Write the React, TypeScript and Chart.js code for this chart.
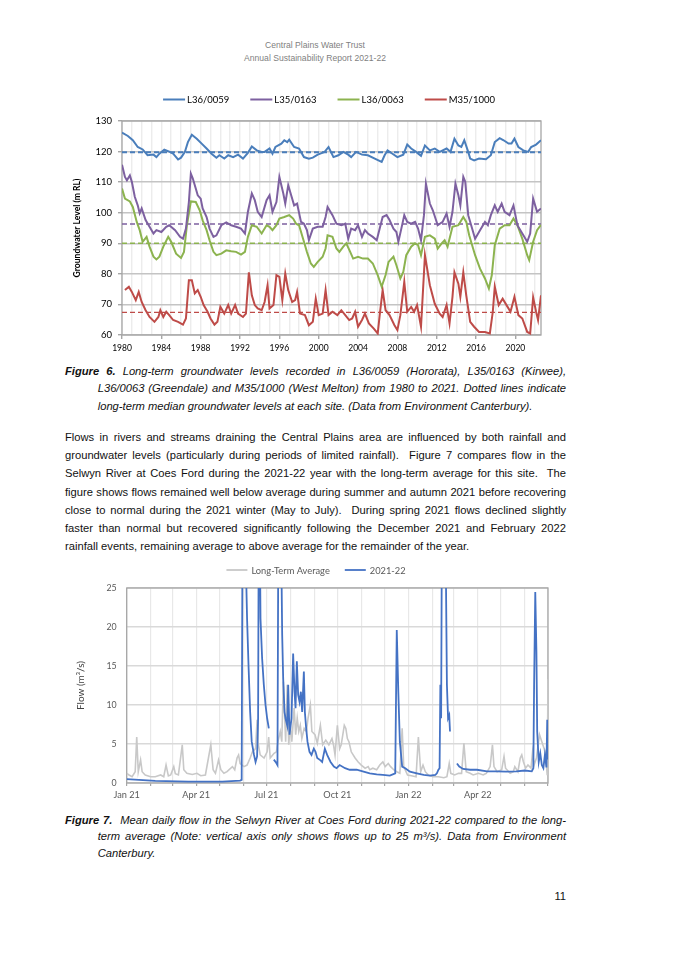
import React, { useEffect, useRef } from "react";
import { Chart, registerables } from "chart.js";

Chart.register(...registerables);

// ================= Figure 6: groundwater levels =================
const gwYearTicks = [
  1980, 1981, 1982, 1983, 1984, 1985, 1986, 1987, 1988, 1989, 1990, 1991, 1992, 1993, 1994,
  1995, 1996, 1997, 1998, 1999, 2000, 2001, 2002, 2003, 2004, 2005, 2006, 2007, 2008, 2009,
  2010, 2011, 2012, 2013, 2014, 2015, 2016, 2017, 2018, 2019, 2020, 2021, 2022,
];
const gwLabelYears = [1980, 1984, 1988, 1992, 1996, 2000, 2004, 2008, 2012, 2016, 2020];
const gwSeriesNames = ["L36/0059", "L35/0163", "L36/0063", "M35/1000"];
const gwColors = ["#4a7ebb", "#7d60a0", "#8cb34f", "#be4b48"];
const gwMedians = [119.8, 96.3, 90.0, 67.4];

const l36_0059_years = [
  1980.0, 1980.6, 1981.1, 1981.6, 1982.1, 1982.6, 1983.2, 1983.5, 1983.8, 1984.3, 1984.8, 1985.2,
  1985.7, 1986.0, 1986.4, 1986.5, 1986.7, 1987.1, 1987.6, 1988.1, 1988.6, 1989.1, 1989.6, 1989.9,
  1990.4, 1990.8, 1991.3, 1991.8, 1992.3, 1992.8, 1993.2, 1993.7, 1994.2, 1994.5, 1995.0, 1995.3,
  1995.6, 1996.2, 1996.5, 1996.8, 1997.0, 1997.5, 1998.0, 1998.5, 1999.0, 1999.4, 1999.9, 2000.6,
  2001.0, 2001.5, 2002.0, 2002.5, 2003.0, 2003.3, 2003.8, 2004.4, 2005.0, 2005.7, 2006.4, 2006.7,
  2007.0, 2007.5, 2008.0, 2008.6, 2009.0, 2009.4, 2009.9, 2010.4, 2010.8, 2011.3, 2011.8, 2012.3,
  2013.0, 2013.4, 2013.8, 2014.2, 2014.5, 2014.8, 2015.2, 2015.4, 2015.8, 2016.3, 2017.0, 2017.5,
  2017.9, 2018.4, 2018.8, 2019.3, 2019.6, 2019.9, 2020.3, 2020.8, 2021.3, 2021.6, 2022.1, 2022.6,
];
const l36_0059_levels = [
  126.2, 125.1, 123.7, 121.5, 120.7, 118.8, 119.0, 118.2, 119.3, 120.6, 120.0, 119.3,
  117.4, 118.0, 119.9, 121.0, 123.1, 125.5, 124.2, 122.6, 121.0, 119.3, 118.0, 118.8,
  117.7, 118.8, 118.2, 119.0, 117.7, 119.6, 121.7, 120.4, 119.9, 119.9, 121.0, 119.3,
  121.5, 122.6, 123.7, 123.1, 123.9, 121.5, 121.0, 118.2, 117.7, 118.0, 119.0, 119.9,
  121.5, 118.2, 118.8, 119.9, 119.0, 118.2, 119.9, 119.0, 118.8, 117.7, 116.6, 118.8,
  120.4, 119.3, 118.2, 119.0, 122.3, 121.0, 119.9, 118.6, 122.0, 120.4, 121.0, 119.9,
  121.0, 119.9, 124.2, 122.0, 121.5, 123.7, 119.9, 117.7, 117.1, 117.7, 117.5, 118.8,
  123.1, 124.4, 123.7, 122.6, 122.6, 124.2, 121.5, 120.4, 119.9, 121.5, 122.3, 123.7,
];

const l35_0163_years = [
  1980.0, 1980.3, 1980.5, 1980.8, 1981.0, 1981.3, 1981.6, 1981.8, 1982.0, 1982.4, 1982.8, 1983.2,
  1983.5, 1984.0, 1984.5, 1984.8, 1985.4, 1985.9, 1986.2, 1986.5, 1986.8, 1987.0, 1987.2, 1987.5,
  1987.7, 1988.0, 1988.2, 1988.6, 1988.9, 1989.3, 1989.6, 1990.1, 1990.6, 1991.1, 1991.6, 1992.1,
  1992.5, 1992.8, 1993.2, 1993.5, 1993.8, 1994.2, 1994.7, 1995.0, 1995.3, 1995.7, 1996.0, 1996.4,
  1996.6, 1996.9, 1997.2, 1997.5, 1997.8, 1998.2, 1998.5, 1998.8, 1999.0, 1999.4, 1999.9, 2000.4,
  2000.7, 2000.9, 2001.4, 2001.8, 2002.3, 2002.7, 2003.0, 2003.3, 2003.7, 2004.0, 2004.4, 2004.7,
  2005.0, 2005.5, 2005.9, 2006.2, 2006.5, 2006.9, 2007.2, 2007.6, 2007.9, 2008.1, 2008.4, 2008.7,
  2009.0, 2009.4, 2009.8, 2010.1, 2010.4, 2010.7, 2010.9, 2011.3, 2011.6, 2012.1, 2012.6, 2013.0,
  2013.3, 2013.6, 2013.9, 2014.2, 2014.4, 2014.7, 2014.9, 2015.2, 2015.5, 2015.9, 2016.4, 2016.9,
  2017.2, 2017.5, 2017.9, 2018.2, 2018.6, 2018.9, 2019.4, 2019.8, 2020.2, 2020.7, 2021.2, 2021.5,
  2021.8, 2022.2, 2022.6,
];
const l35_0163_levels = [
  115.7, 111.7, 110.6, 112.2, 110.1, 105.2, 102.4, 99.8, 101.4, 97.6, 95.4, 93.2,
  94.3, 93.7, 95.4, 95.9, 94.3, 92.1, 91.5, 94.8, 103.5, 112.8, 111.2, 107.9,
  105.7, 104.6, 101.4, 98.6, 94.8, 92.1, 92.6, 95.9, 96.8, 95.9, 95.4, 94.8,
  93.2, 100.3, 106.3, 104.1, 100.3, 98.6, 104.1, 105.7, 100.3, 103.5, 111.7, 106.3,
  103.0, 109.0, 105.7, 102.4, 103.0, 97.0, 96.4, 94.3, 91.0, 94.8, 95.4, 95.4,
  98.6, 101.9, 99.2, 96.4, 95.9, 96.4, 91.5, 94.8, 94.3, 95.9, 92.1, 94.3,
  93.2, 92.1, 91.0, 94.8, 98.6, 99.2, 97.6, 94.8, 93.7, 90.5, 94.8, 99.2,
  97.0, 96.4, 97.0, 94.8, 91.0, 99.2, 109.5, 103.0, 100.8, 95.9, 97.0, 99.7,
  95.4, 100.3, 109.5, 105.7, 102.4, 111.7, 110.1, 99.2, 95.9, 91.5, 94.3, 97.0,
  95.9, 99.2, 102.4, 100.3, 103.0, 100.3, 99.2, 102.4, 95.9, 93.2, 90.5, 93.2,
  104.6, 100.3, 101.4,
];

const l36_0063_years = [
  1980.0, 1980.3, 1980.8, 1981.1, 1981.5, 1981.8, 1982.1, 1982.5, 1982.8, 1983.2, 1983.5, 1983.8,
  1984.2, 1984.7, 1985.0, 1985.5, 1986.0, 1986.3, 1986.6, 1987.0, 1987.5, 1987.9, 1988.2, 1988.6,
  1988.9, 1989.3, 1989.6, 1990.1, 1990.6, 1991.1, 1991.6, 1992.1, 1992.5, 1992.8, 1993.2, 1993.7,
  1994.2, 1994.7, 1995.0, 1995.3, 1995.7, 1996.0, 1996.5, 1997.0, 1997.4, 1997.7, 1998.0, 1998.5,
  1998.8, 1999.2, 1999.5, 1999.9, 2000.4, 2000.7, 2000.9, 2001.4, 2001.8, 2002.1, 2002.5, 2002.8,
  2003.2, 2003.5, 2004.0, 2004.5, 2005.0, 2005.5, 2006.0, 2006.4, 2006.8, 2007.1, 2007.6, 2007.9,
  2008.3, 2008.6, 2008.9, 2009.4, 2009.8, 2010.1, 2010.4, 2010.8, 2011.3, 2011.8, 2012.1, 2012.5,
  2012.8, 2013.1, 2013.6, 2014.2, 2014.7, 2015.0, 2015.3, 2015.9, 2016.4, 2016.9, 2017.3, 2017.6,
  2017.9, 2018.4, 2018.9, 2019.4, 2019.8, 2020.2, 2020.7, 2021.2, 2021.4, 2021.8, 2022.2, 2022.6,
];
const l36_0063_levels = [
  107.9, 104.6, 103.7, 101.9, 97.0, 94.3, 90.5, 92.1, 88.9, 85.6, 84.7, 85.6,
  88.9, 92.1, 90.5, 86.6, 85.2, 87.2, 95.9, 103.7, 103.5, 100.8, 97.5, 94.3,
  91.0, 87.2, 86.1, 86.6, 87.7, 87.4, 87.2, 86.3, 87.2, 92.1, 95.9, 95.4,
  93.2, 95.9, 95.4, 94.3, 95.9, 98.1, 98.6, 99.2, 98.1, 96.4, 95.9, 90.5,
  87.2, 83.4, 82.3, 83.9, 85.6, 88.3, 92.6, 92.1, 88.3, 87.2, 88.9, 90.0,
  87.2, 85.0, 85.6, 85.0, 85.0, 83.4, 79.6, 75.8, 79.6, 83.9, 85.6, 82.8,
  78.5, 80.6, 86.1, 88.9, 90.0, 89.4, 86.1, 92.1, 92.6, 91.5, 88.3, 90.0,
  91.0, 88.9, 95.4, 95.9, 98.6, 97.0, 92.6, 86.1, 81.7, 78.5, 75.2, 79.6,
  89.4, 94.8, 95.9, 95.9, 98.1, 95.9, 91.5, 86.1, 84.5, 90.5, 94.3, 96.0,
];

const m35_1000_years = [
  1980.3, 1980.7, 1981.0, 1981.4, 1981.7, 1982.0, 1982.4, 1982.8, 1983.3, 1983.7, 1983.9, 1984.2,
  1984.5, 1984.8, 1985.2, 1985.7, 1986.2, 1986.5, 1986.8, 1987.1, 1987.4, 1987.7, 1988.0, 1988.3,
  1988.7, 1989.0, 1989.4, 1989.7, 1990.0, 1990.4, 1990.8, 1991.1, 1991.5, 1991.8, 1992.3, 1992.6,
  1992.9, 1993.2, 1993.5, 1993.8, 1994.2, 1994.5, 1994.8, 1995.0, 1995.4, 1995.7, 1996.0, 1996.3,
  1996.6, 1996.9, 1997.3, 1997.6, 1997.8, 1998.1, 1998.6, 1999.0, 1999.4, 1999.7, 2000.0, 2000.4,
  2000.7, 2001.0, 2001.4, 2001.9, 2002.3, 2002.7, 2003.1, 2003.4, 2003.7, 2004.0, 2004.4, 2004.7,
  2005.1, 2005.6, 2006.0, 2006.2, 2006.5, 2006.8, 2007.2, 2007.7, 2008.0, 2008.3, 2008.7, 2009.0,
  2009.4, 2009.7, 2010.0, 2010.4, 2010.8, 2011.3, 2011.8, 2012.3, 2012.6, 2013.0, 2013.3, 2013.6,
  2013.8, 2014.2, 2014.4, 2014.7, 2015.0, 2015.4, 2015.8, 2016.3, 2016.9, 2017.4, 2017.7, 2017.9,
  2018.3, 2018.7, 2019.2, 2019.5, 2019.9, 2020.3, 2020.7, 2021.2, 2021.5, 2021.8, 2022.1, 2022.3,
  2022.6,
];
const m35_1000_levels = [
  74.7, 75.8, 74.1, 71.4, 74.1, 70.8, 68.1, 65.9, 64.3, 65.9, 68.1, 65.9,
  67.6, 66.5, 64.9, 64.3, 63.4, 65.4, 77.9, 77.9, 73.6, 74.7, 72.5, 69.8,
  67.6, 65.4, 63.4, 64.3, 69.2, 67.0, 69.8, 67.0, 69.8, 67.0, 65.9, 67.0,
  80.5, 73.0, 69.8, 68.7, 68.1, 70.8, 76.3, 68.7, 69.8, 79.6, 79.0, 71.4,
  80.1, 74.7, 70.8, 71.4, 74.1, 67.0, 66.5, 63.2, 64.3, 71.9, 66.5, 67.0,
  74.7, 66.5, 67.6, 66.5, 68.1, 66.5, 64.9, 65.4, 67.6, 62.7, 64.9, 67.0,
  63.8, 62.1, 60.5, 66.5, 74.7, 68.1, 66.5, 63.2, 61.6, 66.5, 77.4, 67.6,
  69.2, 67.6, 69.8, 62.7, 86.1, 76.3, 70.2, 67.0, 65.9, 69.8, 63.8, 72.5,
  80.5, 76.8, 72.5, 80.5, 73.0, 64.3, 62.7, 61.0, 61.0, 60.5, 67.6, 75.8,
  69.8, 71.9, 69.2, 67.6, 72.5, 66.5, 65.4, 61.0, 60.5, 72.3, 67.6, 64.9,
  73.0,
];

// ================= Figure 7: Selwyn River flow =================
const monthStartDays = [0, 31, 59, 90, 120, 151, 181, 212, 243, 273, 304, 334, 365, 396, 424, 455, 485, 516, 546];
const quarterDays = [0, 90, 181, 273, 365, 455];
const quarterLabels = ["Jan 21", "Apr 21", "Jul 21", "Oct 21", "Jan 22", "Apr 22"];
const flowSeriesNames = ["Long-Term Average", "2021-22"];
const flowColors = ["#c8c8c8", "#4472c4"];

const avgDays = [
  0, 3, 7, 11, 13, 15, 18, 20, 24, 31, 37, 44, 48, 51, 54, 57, 61, 63, 67, 72, 74, 78, 85, 91, 96,
  102, 109, 112, 115, 119, 122, 126, 130, 137, 140, 143, 145, 147, 152, 156, 160, 163, 167, 169,
  170, 173, 178, 182, 184, 186, 191, 194, 196, 199, 201, 203, 206, 208, 210, 212, 214, 217, 219,
  221, 223, 225, 227, 230, 233, 235, 238, 240, 244, 247, 251, 254, 258, 262, 266, 268, 270, 273,
  276, 278, 282, 284, 286, 288, 291, 296, 300, 304, 309, 313, 315, 319, 324, 328, 332, 335, 339,
  342, 346, 350, 354, 357, 359, 364, 369, 375, 378, 381, 384, 387, 391, 397, 404, 411, 415, 418,
  420, 425, 430, 434, 437, 440, 445, 449, 456, 462, 466, 471, 474, 476, 480, 486, 489, 491, 497,
  501, 503, 507, 510, 512, 514, 517, 520, 524, 526, 528, 531, 535, 538, 541, 543, 545, 546,
];
const avgFlow = [
  1.24, 1.03, 0.81, 1.45, 5.9, 1.45, 2.95, 1.45, 1.03, 0.81, 0.81, 1.03, 0.81, 2.3, 0.9, 1.03, 2.1,
  1.2, 1.03, 4.9, 1.7, 1.24, 1.1, 1.24, 0.94, 1.03, 4.9, 1.7, 1.24, 2.95, 1.7, 1.24, 1.45, 2.1,
  1.7, 3.2, 3.6, 2.5, 2.1, 2.3, 3.2, 4.0, 4.4, 8.1, 5.3, 3.6, 3.2, 4.0, 5.9, 3.2, 3.8, 4.0, 5.3,
  6.6, 5.3, 13.0, 5.3, 12.6, 4.9, 7.4, 5.3, 9.6, 6.2, 8.3, 6.6, 7.4, 5.7, 7.0, 6.6, 8.3, 10.0,
  6.6, 6.2, 5.1, 7.4, 4.9, 5.5, 4.9, 5.7, 4.9, 3.6, 7.4, 4.4, 4.9, 7.4, 7.0, 5.7, 5.3, 4.0, 3.2,
  2.7, 2.3, 1.9, 2.1, 1.7, 1.9, 1.7, 2.3, 2.7, 2.1, 2.5, 2.1, 1.7, 1.45, 1.24, 7.0, 2.1, 1.03,
  0.94, 0.81, 5.9, 1.45, 2.3, 1.45, 1.03, 0.81, 0.81, 0.68, 0.81, 2.5, 1.24, 1.03, 1.24, 1.24,
  5.1, 1.45, 1.24, 1.03, 1.24, 1.03, 1.24, 2.1, 4.9, 2.1, 1.45, 1.7, 3.4, 1.9, 1.24, 1.45, 2.1,
  1.45, 3.2, 3.6, 2.75, 1.9, 2.3, 1.9, 4.0, 2.3, 3.2, 6.2, 5.3, 4.4, 3.6, 1.0, 13.3,
];

const flowDays = [
  0, 37, 80, 124, 147, 149, 150.5, 154, 156, 158, 160, 162, 165, 167, 169, 170.3, 171.5, 173.4,
  175.5, 177.7, 179.9, 182, 184.2, 184.8, 190.7, 193.7, 195.4, 197, 198.5, 200.3, 201.5, 202.8,
  204.5, 205.8, 208, 209.3, 211, 213.6, 215.7, 217.5, 218.8, 220.5, 222.2, 224, 225.7, 227.4,
  229.6, 230.9, 232.6, 234.3, 236.9, 239.5, 242.5, 244.7, 246.9, 251.2, 253.3, 256.8, 259.8,
  264.2, 268.5, 272, 276, 283, 289, 298, 307, 315, 324, 332, 341, 348, 350, 352, 354, 357, 361,
  367, 376, 385, 393, 400, 402, 404, 405.5, 406.5, 407.5, 409, 412, 415, 416.5, 418, 419, 420,
  428, 431, 436, 445, 454, 467, 479, 492, 505, 516, 525, 527, 528, 529.5, 531, 532, 534, 536,
  538, 540, 542, 544, 545, 546,
];
const flow2021_22 = [
  0.5, 0.26, 0.17, 0.17, 0.3, 0.4, 45, 30, 21.1, 14.7, 9.1, 5.3, 3.6, 2.7, 3.4, 8.3, 45, 21.1,
  16.0, 12.6, 10.0, 8.3, 7.0, null, 3.0, 2.6, 2.3, 45, 50, 30, 19.0, 13.4,
  9.1, 8.3, 7.4, 12.6, 6.2, 8.3, 16.6, 11.7, 9.6, 15.6, 11.3, 10.4, 11.7, 9.1,
  14.3, 9.1, 7.0, 5.3, 4.0, 3.6, 4.4, 4.0, 3.2, 2.9, 2.7, 4.4, 3.6,
  2.7, 2.1, 1.9, 2.3, 1.9, 1.7, 1.7, 1.45, 1.24, 1.1, 1.03, 0.94, 1.24, 19.6, 11.7, 5.3, 2.1, 1.9,
  1.45, 1.24, 1.03, 0.94, 1.03, 1.24, 1.7, 1.9, 12.6, 8.3, 45, 45, 12.6, 8.3, 8.7, 6.6, null,
  2.5, 2.1, 1.8, 1.7, 1.7, 1.5, 1.5, 1.45, 1.5, 1.6, 1.5, 1.9, 12.6, 24.5, 16.8, 6.6, 2.7, 3.8,
  2.3, 1.9, 3.6, 2.0, 8.1, 3.0,
];

// ================= plugins =================
const plotFrame = {
  id: "plotFrame",
  beforeDatasetsDraw(chart: any, _args: any, opts: any) {
    const { ctx, chartArea: a } = chart;
    ctx.save();
    ctx.strokeStyle = opts.color;
    ctx.lineWidth = opts.width;
    ctx.strokeRect(a.left, a.top, a.right - a.left, a.bottom - a.top);
    ctx.restore();
  },
};

const lineLegend = {
  id: "lineLegend",
  afterDraw(chart: any, _args: any, opts: any) {
    const { ctx } = chart;
    const labels: string[] = opts.labels;
    const colors: string[] = opts.colors;
    ctx.save();
    ctx.font = opts.font;
    const widths = labels.map((l) => opts.lineLen + opts.textGap + ctx.measureText(l).width);
    const total = widths.reduce((s, w) => s + w, 0) + opts.gap * (labels.length - 1);
    let x = opts.centerX - total / 2;
    ctx.textBaseline = "middle";
    ctx.textAlign = "left";
    labels.forEach((l, i) => {
      ctx.strokeStyle = colors[i];
      ctx.lineWidth = opts.lineWidth;
      ctx.beginPath();
      ctx.moveTo(x, opts.y);
      ctx.lineTo(x + opts.lineLen, opts.y);
      ctx.stroke();
      ctx.fillStyle = opts.textColor;
      ctx.fillText(l, x + opts.lineLen + opts.textGap, opts.y + 0.5);
      x += widths[i] + opts.gap;
    });
    ctx.restore();
  },
};

const toPoints = (xs: number[], ys: (number | null)[]) => xs.map((x, i) => ({ x, y: ys[i] }));

function groundwaterConfig(): any {
  const series = [
    [l36_0059_years, l36_0059_levels],
    [l35_0163_years, l35_0163_levels],
    [l36_0063_years, l36_0063_levels],
    [m35_1000_years, m35_1000_levels],
  ];
  const datasets: any[] = series.map(([xs, ys], i) => ({
    label: gwSeriesNames[i],
    data: toPoints(xs as number[], ys as number[]),
    borderColor: gwColors[i],
    borderWidth: 2,
    pointRadius: 0,
    tension: 0,
    order: 1,
  }));
  gwMedians.forEach((m, i) => {
    datasets.push({
      label: gwSeriesNames[i] + " median",
      data: [
        { x: 1980, y: m },
        { x: 2022.6, y: m },
      ],
      borderColor: gwColors[i],
      borderWidth: i === 0 ? 2 : 1.4,
      borderDash: [5, 3],
      pointRadius: 0,
      order: 2,
    });
  });
  return {
    type: "line",
    data: { datasets },
    plugins: [plotFrame, lineLegend],
    options: {
      responsive: false,
      animation: false,
      layout: { padding: { top: 33, right: 54, left: 0, bottom: 0 } },
      plugins: {
        legend: { display: false },
        tooltip: { enabled: false },
        plotFrame: { color: "#a6a6a6", width: 1.3 },
        lineLegend: {
          labels: gwSeriesNames,
          colors: gwColors,
          font: "9.5px Lato",
          textColor: "#000000",
          centerX: 264,
          y: 11.5,
          lineLen: 22,
          textGap: 2,
          gap: 21,
          lineWidth: 2,
        },
      },
      scales: {
        x: {
          type: "linear",
          min: 1980,
          max: 2022.6,
          afterBuildTicks: (scale: any) => {
            scale.ticks = gwYearTicks.map((v) => ({ value: v }));
          },
          afterFit: (scale: any) => {
            scale.height = 28;
          },
          border: { display: false },
          grid: {
            color: "#ececec",
            lineWidth: 1.4,
            tickLength: 4,
            tickColor: (ctx: any) =>
              ctx.tick && gwLabelYears.includes(ctx.tick.value) ? "#a6a6a6" : "rgba(0,0,0,0)",
          },
          ticks: {
            autoSkip: false,
            maxRotation: 0,
            minRotation: 0,
            padding: 4,
            color: "#000000",
            font: { family: "Lato", size: 8.5 },
            callback: (v: any) => (gwLabelYears.includes(v) ? String(v) : ""),
          },
        },
        y: {
          min: 60,
          max: 130,
          afterFit: (scale: any) => {
            scale.width = 57;
          },
          border: { display: false },
          grid: { color: "#c4c4c4", lineWidth: 1.4, tickLength: 4, tickColor: "#a6a6a6" },
          ticks: {
            stepSize: 10,
            padding: 6,
            color: "#000000",
            font: { family: "Lato", size: 9.5 },
          },
          title: {
            display: true,
            text: "Groundwater Level (m RL)",
            color: "#000000",
            font: { family: "Lato", size: 8.6, weight: "bold" },
            padding: { top: 7.5, bottom: 0 },
          },
        },
      },
    },
  };
}

function flowConfig(): any {
  return {
    type: "line",
    data: {
      datasets: [
        {
          label: flowSeriesNames[0],
          data: toPoints(avgDays, avgFlow),
          borderColor: flowColors[0],
          borderWidth: 1.6,
          pointRadius: 0,
          tension: 0,
          order: 2,
        },
        {
          label: flowSeriesNames[1],
          data: toPoints(flowDays, flow2021_22),
          borderColor: flowColors[1],
          borderWidth: 1.8,
          pointRadius: 0,
          tension: 0,
          spanGaps: false,
          order: 1,
        },
      ],
    },
    plugins: [plotFrame, lineLegend],
    options: {
      responsive: false,
      animation: false,
      layout: { padding: { top: 33, right: 19, left: 0, bottom: 0 } },
      plugins: {
        legend: { display: false },
        tooltip: { enabled: false },
        plotFrame: { color: "#a6a6a6", width: 1.3 },
        lineLegend: {
          labels: flowSeriesNames,
          colors: flowColors,
          font: "9.3px Lato",
          textColor: "#595959",
          centerX: 251,
          y: 15,
          lineLen: 21,
          textGap: 4,
          gap: 15,
          lineWidth: 1.8,
        },
      },
      scales: {
        x: {
          type: "linear",
          min: 0,
          max: 546,
          afterBuildTicks: (scale: any) => {
            scale.ticks = monthStartDays.map((v) => ({ value: v }));
          },
          afterFit: (scale: any) => {
            scale.height = 22;
          },
          border: { display: false },
          grid: { color: "#e8e8e8", lineWidth: 1.2, tickLength: 3, tickColor: "#a6a6a6" },
          ticks: {
            autoSkip: false,
            maxRotation: 0,
            minRotation: 0,
            padding: 4,
            color: "#595959",
            font: { family: "Lato", size: 9.2 },
            callback: (v: any) => {
              const k = quarterDays.indexOf(v);
              return k >= 0 ? quarterLabels[k] : "";
            },
          },
        },
        y: {
          min: 0,
          max: 25,
          afterFit: (scale: any) => {
            scale.width = 61.7;
          },
          border: { display: false },
          grid: { color: "#d9d9d9", lineWidth: 1.4, drawTicks: false },
          ticks: {
            stepSize: 5,
            padding: 10,
            color: "#595959",
            font: { family: "Lato", size: 8.8 },
          },
          title: {
            display: true,
            text: "Flow (m³/s)",
            color: "#404040",
            font: { family: "Lato", size: 10 },
            padding: { top: 9.7, bottom: 0 },
          },
        },
      },
    },
  };
}

function ChartCanvas(props: { make: () => any; left: number; top: number; width: number; height: number }) {
  const ref = useRef<HTMLCanvasElement>(null);
  useEffect(() => {
    const chart = new Chart(ref.current as HTMLCanvasElement, props.make());
    return () => chart.destroy();
  }, []);
  return (
    <canvas
      ref={ref}
      width={props.width}
      height={props.height}
      style={{
        position: "absolute",
        left: props.left,
        top: props.top,
        width: props.width,
        height: props.height,
      }}
    />
  );
}

const bodyFont = '"Liberation Sans", Arial, sans-serif';

function JLine(props: { children: any; last?: boolean; indent?: number }) {
  return (
    <div
      style={{
        whiteSpace: "nowrap",
        textAlign: props.last ? "left" : "justify",
        textAlignLast: props.last ? "left" : "justify",
        marginLeft: props.indent || 0,
      } as any}
    >
      {props.children}
    </div>
  );
}

export default function App() {
  useEffect(() => {
    document.body.style.margin = "0";
    document.body.style.overflow = "hidden";
  }, []);
  const indent = 32.7;
  return (
    <div
      style={{
        position: "absolute",
        left: 0,
        top: 0,
        width: 675,
        height: 955,
        background: "#ffffff",
        overflow: "hidden",
        fontFamily: bodyFont,
        color: "#111111",
      }}
    >
      <div
        style={{
          position: "absolute",
          left: 165,
          width: 300,
          top: 38.5,
          textAlign: "center",
          fontSize: 8.6,
          lineHeight: "13px",
          color: "#7f7f7f",
        }}
      >
        <div>Central Plains Water Trust</div>
        <div>Annual Sustainability Report 2021-22</div>
      </div>

      <ChartCanvas make={groundwaterConfig} left={65} top={88} width={530} height={275} />

      <div
        style={{
          position: "absolute",
          left: 65,
          width: 501,
          top: 362.5,
          fontSize: 11.2,
          lineHeight: "17.5px",
          fontStyle: "italic",
        }}
      >
        <JLine>
          <b>Figure 6.</b> Long-term groundwater levels recorded in L36/0059 (Hororata), L35/0163 (Kirwee),
        </JLine>
        <JLine indent={indent}>
          L36/0063 (Greendale) and M35/1000 (West Melton) from 1980 to 2021. Dotted lines indicate
        </JLine>
        <JLine indent={indent} last>
          long-term median groundwater levels at each site. (Data from Environment Canterbury).
        </JLine>
      </div>

      <div
        style={{
          position: "absolute",
          left: 65,
          width: 501,
          top: 427.9,
          fontSize: 11.2,
          lineHeight: "18.25px",
        }}
      >
        <JLine>Flows in rivers and streams draining the Central Plains area are influenced by both rainfall and</JLine>
        <JLine>{"groundwater levels (particularly during periods of limited rainfall).\u00a0 Figure 7 compares flow in the"}</JLine>
        <JLine>{"Selwyn River at Coes Ford during the 2021-22 year with the long-term average for this site.\u00a0 The"}</JLine>
        <JLine>figure shows flows remained well below average during summer and autumn 2021 before recovering</JLine>
        <JLine>{"close to normal during the 2021 winter (May to July).\u00a0 During spring 2021 flows declined slightly"}</JLine>
        <JLine>faster than normal but recovered significantly following the December 2021 and February 2022</JLine>
        <JLine last>rainfall events, remaining average to above average for the remainder of the year.</JLine>
      </div>

      <ChartCanvas make={flowConfig} left={65} top={555} width={502} height={250} />

      <div
        style={{
          position: "absolute",
          left: 65,
          width: 501,
          top: 811.5,
          fontSize: 11.2,
          lineHeight: "16.5px",
          fontStyle: "italic",
        }}
      >
        <JLine>
          <b>Figure 7.</b>
          {"\u00a0 Mean daily flow in the Selwyn River at Coes Ford during 2021-22 compared to the long-"}
        </JLine>
        <JLine indent={indent}>
          term average (Note: vertical axis only shows flows up to 25 m³/s). Data from Environment
        </JLine>
        <JLine indent={indent} last>
          Canterbury.
        </JLine>
      </div>

      <div
        style={{
          position: "absolute",
          left: 466,
          width: 100,
          top: 887,
          textAlign: "right",
          fontSize: 11.2,
          lineHeight: "18px",
        }}
      >
        11
      </div>
    </div>
  );
}
